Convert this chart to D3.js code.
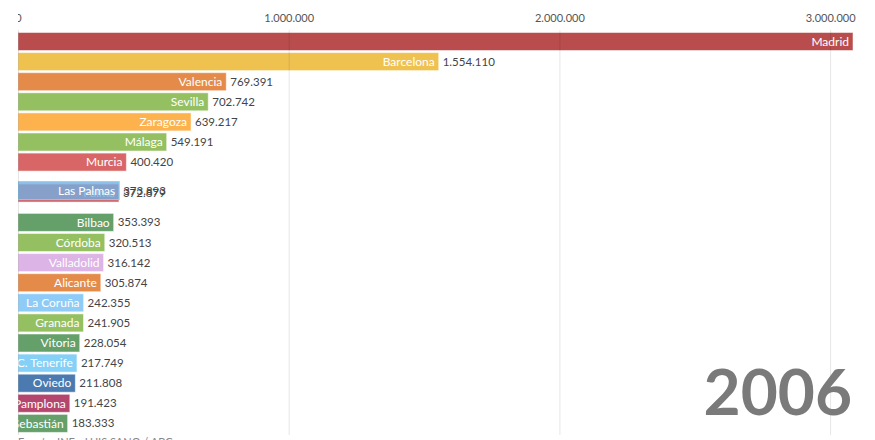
<!DOCTYPE html>
<html>
<head>
<meta charset="utf-8">
<script src="https://cdn.jsdelivr.net/npm/d3@7"></script>
<style>
  html, body { margin: 0; padding: 0; background: #fff; overflow: hidden; }
  svg { display: block; font-family: Lato, "Open Sans", sans-serif; }
</style>
</head>
<body>
<svg id="chart" width="875" height="440"></svg>
<script>
// ---- data (frame: year 2006) ----
const year = "2006";
const cities = ["Madrid","Barcelona","Valencia","Sevilla","Zaragoza","Málaga","Murcia","Palma","Las Palmas","Bilbao","Córdoba","Valladolid","Alicante","La Coruña","Granada","Vitoria","S.C. Tenerife","Oviedo","Pamplona","San Sebastián"];
const values = [3084600,1554110,769391,702742,639217,549191,400420,372879,373893,353393,320513,316142,305874,242355,241905,228054,217749,211808,191423,183333];
const ranks  = [0,1,2,3,4,5,6,7.54,7.42,9,10,11,12,13,14,15,16,17,18,19];
const colors = ["#b94d4d","#efc250","#e48b4a","#94c062","#fdb24d","#94c062","#d96666","#d95b5b","#74b0e2","#65a06a","#94c062","#ddb4e6","#e48b4a","#8ecbf7","#94c062","#65a06a","#84d0f7","#4a7aaf","#b4466e","#65a06a"];
const tickValues = [0,1000000,2000000,3000000];
const source = "Fuente: INE - LUIS SANO / ABC";

const rows = cities.map((c,i)=>({city:c, value:values[i], rank:ranks[i], color:colors[i]}));

const W = 875, H = 440;
const left = 18, right = 853, clipRight = 857;
const barStep = 20.1, barTop = 32.5, barH = 18;

const locale = d3.formatLocale({decimal:",", thousands:".", grouping:[3], currency:["","€"]});
const fmt = locale.format(",d");

const svg = d3.select("#chart");
svg.append("defs").append("clipPath").attr("id","clip")
  .append("rect").attr("x",left).attr("y",0).attr("width",clipRight-left).attr("height",H);

const g = svg.append("g").attr("clip-path","url(#clip)");

const x = d3.scaleLinear().domain([0, d3.max(values)]).range([left, right]);
const y = r => barTop + r*barStep;

// bars (Las Palmas drawn last so it sits above Palma)
const order = rows.slice().sort((a,b)=> (a.city==="Las Palmas") - (b.city==="Las Palmas"));
const barG = g.append("g");
order.forEach(d=>{
  const gg = barG.append("g");
  gg.append("rect")
    .attr("x", x(0)).attr("y", y(d.rank))
    .attr("width", x(d.value)-x(0)).attr("height", barH)
    .attr("fill", d.color)
    .attr("fill-opacity", d.city==="Las Palmas" ? 0.82 : 1)
    .attr("stroke", d.city==="Las Palmas" ? "#8dd0f5" : "#fff")
    .attr("stroke-opacity", d.city==="Las Palmas" ? 1 : 0.5).attr("stroke-width", 1);
  gg.append("text")
    .attr("x", x(d.value)-4).attr("y", y(d.rank)+barH/2)
    .attr("dy","0.35em").attr("text-anchor","end")
    .attr("fill","#fff").attr("font-size",12)
    .text(d.city);
  gg.append("text")
    .attr("x", x(d.value)+4).attr("y", y(d.rank)+barH/2)
    .attr("dy","0.35em").attr("text-anchor","start")
    .attr("fill","#444").attr("font-size",11.5)
    .text(fmt(d.value));
});

// axis + gridlines on top
const axis = d3.axisTop(x).tickValues(tickValues).tickFormat(fmt).tickSize(-(435-30)).tickPadding(6);
const axG = g.append("g").attr("transform","translate(0,30)").call(axis);
axG.select(".domain").remove();
axG.selectAll(".tick line").attr("stroke","#000").attr("stroke-opacity",0.1);
axG.selectAll(".tick text").attr("fill","#555").attr("font-size",11)
  .attr("font-family","Lato, sans-serif").attr("y",-8);

// year
g.append("text").attr("x",852).attr("y",415).attr("text-anchor","end")
  .attr("font-size",64).attr("font-weight","bold").attr("fill","#7a7a7a")
  .text(year);

// source (cut off at bottom)
g.append("text").attr("x",left).attr("y",446).attr("font-size",11).attr("fill","#888").text(source);
</script>
</body>
</html>
